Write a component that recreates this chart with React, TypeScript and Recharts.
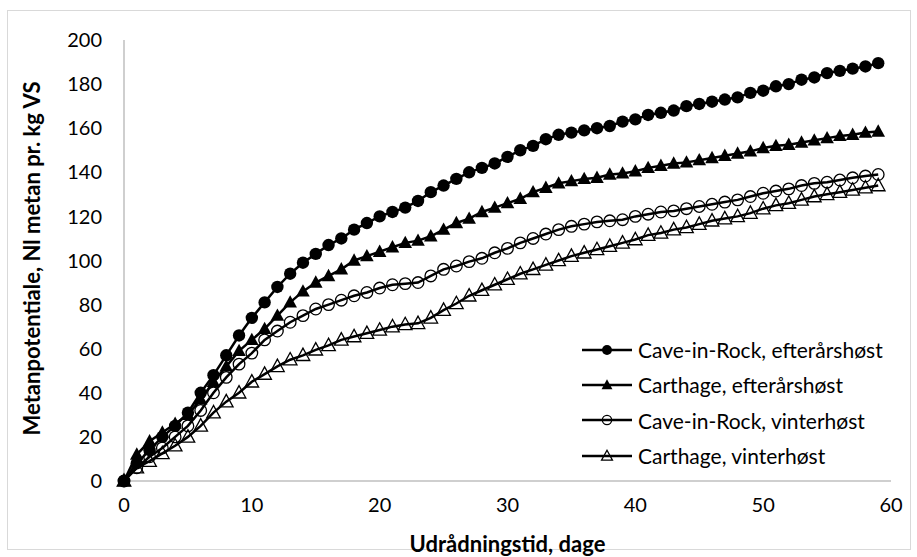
import React from "react";
import { LineChart, Line, XAxis, YAxis, Legend } from "recharts";

const days = [
  0, 1, 2, 3, 4, 5, 6, 7, 8, 9, 10, 11, 12, 13, 14, 15, 16, 17, 18, 19,
  20, 21, 22, 23, 24, 25, 26, 27, 28, 29, 30, 31, 32, 33, 34, 35, 36, 37, 38, 39,
  40, 41, 42, 43, 44, 45, 46, 47, 48, 49, 50, 51, 52, 53, 54, 55, 56, 57, 58, 59,
];

// Cave-in-Rock, efterårshøst
const caveEfter = [
  0, 8, 14, 20, 25, 31, 40, 48, 57, 66, 74, 81, 88, 94, 99, 103, 107, 110, 114, 117,
  120, 122, 124, 127, 131, 134, 137, 140, 142, 144, 147, 150, 152, 155, 157, 158, 159, 160, 161, 163,
  164, 166, 167, 168, 170, 171, 172, 173, 174, 176, 177, 179, 180, 182, 183, 185, 186, 187, 188, 189.5,
];

// Carthage, efterårshøst
const carthEfter = [
  0, 12, 18, 22, 26, 30, 37, 45, 52, 59, 64, 69, 75, 81, 86, 90, 93, 96, 100, 102,
  104, 106, 108, 109, 111, 114, 117, 119, 122, 124, 126, 128, 131, 133, 135, 136, 137, 137.5, 139, 139.5,
  140.5, 142, 143, 144, 144.5, 145.5, 146.5, 147.5, 148.5, 149.5, 151, 152, 152.5, 153.5, 154.5, 155.5, 156.5, 157, 158, 158.5,
];

// Cave-in-Rock, vinterhøst
const caveVinter = [
  0, 6, 11, 15, 20, 25, 32, 40, 47, 53, 58, 64, 68, 72, 75, 78, 80, 82, 84, 85.5,
  87.5, 89, 89.5, 90, 93, 96, 97.5, 99.5, 101, 103.5, 105.5, 108, 110, 112, 114, 115.5, 116.5, 117.5, 118, 118.5,
  120, 121, 122, 122.5, 123.5, 124.5, 125.5, 126.5, 127.5, 129, 130.5, 131.5, 132.5, 134, 135, 135.5, 136.5, 137.5, 138.3, 139,
];

// Carthage, vinterhøst
const carthVinter = [
  0, 6, 9, 12.5, 16, 20, 25, 31, 36, 40, 45, 48.5, 52, 55, 57, 59.5, 61.5, 64, 65.5, 67,
  68.5, 70, 71, 71.5, 74, 77.5, 80.5, 84, 86.5, 89, 91.5, 94, 96, 98, 100, 102, 103.5, 105, 106.5, 108,
  109.5, 111.5, 112.5, 114, 115, 116.5, 118, 119, 120, 121.5, 123.5, 125, 126, 127.5, 129, 130, 131, 132, 133, 134,
];

const xTicks = [0, 10, 20, 30, 40, 50, 60];
const yTicks = [0, 20, 40, 60, 80, 100, 120, 140, 160, 180, 200];

const rows = days.map((d, i) => ({
  day: d,
  caveEfter: caveEfter[i],
  carthEfter: carthEfter[i],
  caveVinter: caveVinter[i],
  carthVinter: carthVinter[i],
}));

const FONT = "Lato, 'Liberation Sans', sans-serif";

type Kind = "fcircle" | "ftri" | "ocircle" | "otri";

const series: { key: string; name: string; kind: Kind }[] = [
  { key: "caveEfter", name: "Cave-in-Rock, efterårshøst", kind: "fcircle" },
  { key: "carthEfter", name: "Carthage, efterårshøst", kind: "ftri" },
  { key: "caveVinter", name: "Cave-in-Rock, vinterhøst", kind: "ocircle" },
  { key: "carthVinter", name: "Carthage, vinterhøst", kind: "otri" },
];

function Marker({ kind, cx, cy, small }: { kind: Kind; cx: number; cy: number; small?: boolean }) {
  const s = small ? 0.8 : 1;
  if (kind === "fcircle") return <circle cx={cx} cy={cy} r={6.2 * s} fill="#000" />;
  if (kind === "ocircle")
    return <circle cx={cx} cy={cy} r={5.8 * s} fill="none" stroke="#000" strokeWidth={1.3} />;
  const pts = `${cx},${cy - 7.2 * s} ${cx - 6.8 * s},${cy + 5.2 * s} ${cx + 6.8 * s},${cy + 5.2 * s}`;
  if (kind === "ftri") return <polygon points={pts} fill="#000" />;
  return <polygon points={pts} fill="none" stroke="#000" strokeWidth={1.3} />;
}

function makeDot(kind: Kind) {
  return (p: any) => <Marker key={`${kind}-${p.index}`} kind={kind} cx={p.cx} cy={p.cy} />;
}

function LegendBox() {
  return (
    <div style={{ fontFamily: FONT }}>
      {series.map((s) => (
        <div key={s.key} style={{ display: "flex", alignItems: "center", height: 35.3 }}>
          <svg width={50} height={20} style={{ flex: "none" }}>
            <line x1={0} y1={10} x2={50} y2={10} stroke="#000" strokeWidth={2.5} />
            <Marker kind={s.kind} cx={25} cy={10} small />
          </svg>
          <span style={{ marginLeft: 6, fontSize: 21, color: "#000", whiteSpace: "nowrap" }}>{s.name}</span>
        </div>
      ))}
    </div>
  );
}

function XTitle(props: any) {
  const vb = props.viewBox;
  return (
    <text x={vb.x + vb.width / 2} y={vb.y + 71} textAnchor="middle" fontWeight="bold" fontSize={22} fill="#000" fontFamily={FONT}>
      Udrådningstid, dage
    </text>
  );
}

function YTitle(props: any) {
  const vb = props.viewBox;
  const cx = 31;
  const cy = vb.y + vb.height / 2 - 2;
  return (
    <text x={cx} y={cy} transform={`rotate(-90 ${cx} ${cy})`} textAnchor="middle" dominantBaseline="central" fontWeight="bold" fontSize={22} fill="#000" fontFamily={FONT}>
      Metanpotentiale, Nl metan pr. kg VS
    </text>
  );
}

export default function App() {
  return (
    <div style={{ position: "absolute", left: 0, top: 0, width: 917, height: 557, background: "#fff", fontFamily: FONT }}>
      <div style={{ position: "absolute", left: 7, top: 10, width: 904, height: 540, border: "1px solid #d9d9d9", boxSizing: "border-box" }} />
      <LineChart width={917} height={557} data={rows} margin={{ top: 40, right: 26, bottom: 0, left: 0 }} style={{ position: "absolute", left: 0, top: 0 }}>
        <XAxis
          dataKey="day"
          type="number"
          domain={[0, 60]}
          ticks={xTicks}
          stroke="#bfbfbf"
          strokeWidth={1.5}
          tickLine={false}
          tickSize={0}
          tickMargin={17}
          height={76}
          tick={{ fill: "#000", fontSize: 20, fontFamily: FONT }}
          label={{ content: XTitle }}
        />
        <YAxis
          type="number"
          domain={[0, 200]}
          ticks={yTicks}
          stroke="#bfbfbf"
          strokeWidth={1.5}
          tickLine={false}
          tickSize={0}
          tickMargin={22}
          width={124}
          tick={{ fill: "#000", fontSize: 20, fontFamily: FONT }}
          label={{ content: YTitle }}
        />
        {series.map((s) => (
          <Line
            key={s.key}
            dataKey={s.key}
            name={s.name}
            type="linear"
            stroke="#000"
            strokeWidth={2.5}
            dot={makeDot(s.kind)}
            activeDot={false}
            isAnimationActive={false}
          />
        ))}
        <Legend
          layout="vertical"
          align="center"
          verticalAlign="middle"
          content={() => <LegendBox />}
          wrapperStyle={{ left: 582, top: 332, width: 330 }}
        />
      </LineChart>
    </div>
  );
}
